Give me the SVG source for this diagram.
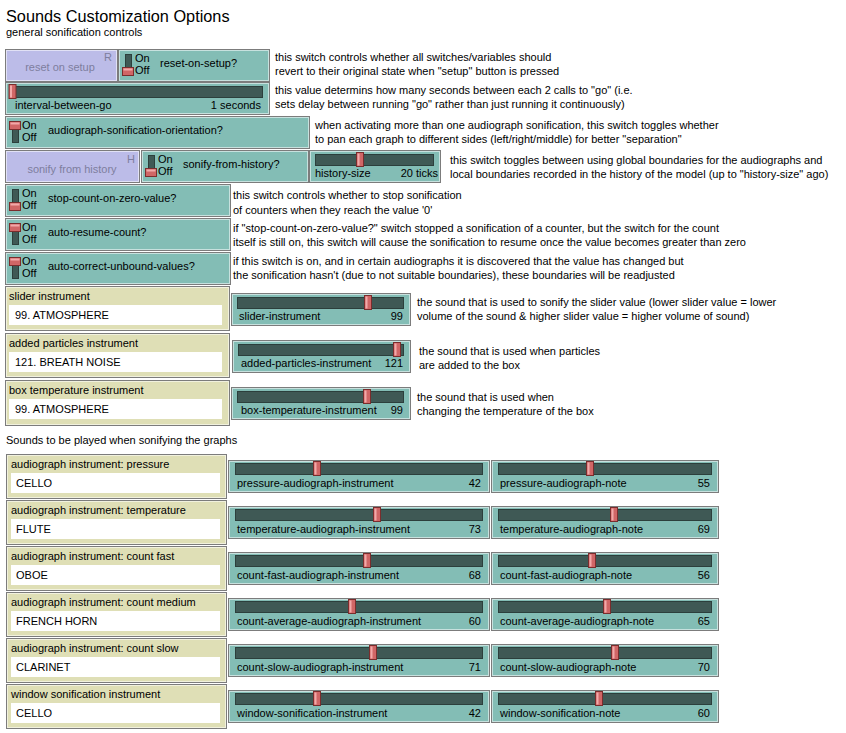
<svg xmlns="http://www.w3.org/2000/svg" width="846" height="733" viewBox="0 0 846 733">
<style>
text{font-family:"Liberation Sans",Arial,sans-serif;font-size:11px;fill:#000}
.title{font-size:16.3px}
.w{stroke:#7c7c7c;stroke-width:1}
.hl{fill:none;stroke:#ffffff;stroke-opacity:.55;stroke-width:1}
.teal{fill:#83bdb5}
.chz{fill:#dfdfb6}
.btn{fill:#bcbce8}
.btxt{fill:#7e7e9e}
.track{fill:#3f5955;stroke:#2c3f3c;stroke-width:1}
.knob{fill:#d06666;stroke:#7a2d2d;stroke-width:1}
.kh{fill:#f2a9a9}
.strack{fill:#3f5955;stroke:#2c3f3c;stroke-width:1}
.wbox{fill:#ffffff}
.end{text-anchor:end}
.mid{text-anchor:middle}
</style>
<defs>
<g id="knob"><rect class="knob" x="-3.5" y="0.5" width="7" height="14"/><rect class="kh" x="-2.5" y="1.5" width="2" height="12"/></g>
<g id="swOff"><rect class="strack" x="7.5" y="5.5" width="6" height="21"/><rect class="knob" x="4.5" y="18.5" width="11" height="8"/><rect class="kh" x="5.5" y="19.5" width="9" height="2"/><text x="17" y="13">On</text><text x="17" y="25">Off</text></g>
<g id="swOn"><rect class="strack" x="7.5" y="5.5" width="6" height="21"/><rect class="knob" x="4.5" y="5.5" width="11" height="8"/><rect class="kh" x="5.5" y="6.5" width="9" height="2"/><text x="17" y="13">On</text><text x="17" y="25">Off</text></g>
</defs>

<g id="header">
<text class="title" x="6" y="22">Sounds Customization Options</text>
<text x="6" y="36">general sonification controls</text>
</g>

<g id="btn-reset">
<rect class="w btn" x="5.5" y="49.5" width="112" height="32"/><rect class="hl" x="6.5" y="50.5" width="110" height="30"/>
<text class="btxt mid" x="60" y="71">reset on setup</text><text class="btxt" x="104" y="61">R</text>
</g>
<g id="sw-reset">
<rect class="w teal" x="118.5" y="49.5" width="151" height="32"/><rect class="hl" x="119.5" y="50.5" width="149" height="30"/>
<use href="#swOff" x="118" y="49"/><text x="160" y="67">reset-on-setup?</text>
</g>
<g id="sl-interval">
<rect class="w teal" x="5.5" y="82.5" width="264" height="32"/><rect class="hl" x="6.5" y="83.5" width="262" height="30"/>
<rect class="track" x="10.5" y="86.5" width="252" height="11"/><use href="#knob" x="12.5" y="84"/>
<text x="15" y="109">interval-between-go</text><text class="end" x="261" y="109">1 seconds</text>
</g>
<g id="sw-orient">
<rect class="w teal" x="5.5" y="116.5" width="304" height="32"/><rect class="hl" x="6.5" y="117.5" width="302" height="30"/>
<use href="#swOn" x="5" y="116"/><text x="48" y="134">audiograph-sonification-orientation?</text>
</g>
<g id="btn-sonify">
<rect class="w btn" x="5.5" y="150.5" width="134" height="32"/><rect class="hl" x="6.5" y="151.5" width="132" height="30"/>
<text class="btxt mid" x="72" y="173">sonify from history</text><text class="btxt" x="127" y="163">H</text>
</g>
<g id="sw-sonify">
<rect class="w teal" x="141.5" y="150.5" width="167" height="32"/><rect class="hl" x="142.5" y="151.5" width="165" height="30"/>
<use href="#swOff" x="141" y="150"/><text x="183" y="168">sonify-from-history?</text>
</g>
<g id="sl-history">
<rect class="w teal" x="309.5" y="150.5" width="131" height="32"/><rect class="hl" x="310.5" y="151.5" width="129" height="30"/>
<rect class="track" x="315.5" y="154.5" width="118" height="11"/><use href="#knob" x="360" y="152"/>
<text x="315" y="177">history-size</text><text class="end" x="438" y="177">20 ticks</text>
</g>
<g id="sw-stop">
<rect class="w teal" x="5.5" y="184.5" width="225" height="32"/><rect class="hl" x="6.5" y="185.5" width="223" height="30"/>
<use href="#swOff" x="5" y="184"/><text x="48" y="202">stop-count-on-zero-value?</text>
</g>
<g id="sw-resume">
<rect class="w teal" x="5.5" y="218.5" width="225" height="32"/><rect class="hl" x="6.5" y="219.5" width="223" height="30"/>
<use href="#swOn" x="5" y="218"/><text x="48" y="236">auto-resume-count?</text>
</g>
<g id="sw-correct">
<rect class="w teal" x="5.5" y="252.5" width="225" height="32"/><rect class="hl" x="6.5" y="253.5" width="223" height="30"/>
<use href="#swOn" x="5" y="252"/><text x="48" y="270">auto-correct-unbound-values?</text>
</g>

<g id="ch-slider">
<rect class="w chz" x="5.5" y="286.5" width="224" height="44"/><rect class="hl" x="6.5" y="287.5" width="222" height="42"/>
<text x="9" y="300">slider instrument</text><rect class="wbox" x="9" y="305" width="213" height="20"/><text x="15" y="319">99. ATMOSPHERE</text>
</g>
<g id="sl-slider">
<rect class="w teal" x="231.5" y="293.5" width="179" height="32"/><rect class="hl" x="232.5" y="294.5" width="177" height="30"/>
<rect class="track" x="237.5" y="297.5" width="166" height="11"/><use href="#knob" x="368" y="295"/>
<text x="239" y="320">slider-instrument</text><text class="end" x="403" y="320">99</text>
</g>
<g id="ch-particles">
<rect class="w chz" x="5.5" y="333.5" width="224" height="44"/><rect class="hl" x="6.5" y="334.5" width="222" height="42"/>
<text x="9" y="347">added particles instrument</text><rect class="wbox" x="9" y="352" width="213" height="20"/><text x="15" y="366">121. BREATH NOISE</text>
</g>
<g id="sl-particles">
<rect class="w teal" x="232.5" y="340.5" width="178" height="32"/><rect class="hl" x="233.5" y="341.5" width="176" height="30"/>
<rect class="track" x="238.5" y="344.5" width="165" height="11"/><use href="#knob" x="397" y="342"/>
<text x="241" y="367">added-particles-instrument</text><text class="end" x="403" y="367">121</text>
</g>
<g id="ch-box">
<rect class="w chz" x="5.5" y="380.5" width="224" height="45"/><rect class="hl" x="6.5" y="381.5" width="222" height="43"/>
<text x="9" y="394">box temperature instrument</text><rect class="wbox" x="9" y="399" width="213" height="20"/><text x="15" y="413">99. ATMOSPHERE</text>
</g>
<g id="sl-box">
<rect class="w teal" x="231.5" y="387.5" width="179" height="32"/><rect class="hl" x="232.5" y="388.5" width="177" height="30"/>
<rect class="track" x="237.5" y="391.5" width="166" height="11"/><use href="#knob" x="367" y="389"/>
<text x="241" y="414">box-temperature-instrument</text><text class="end" x="403" y="414">99</text>
</g>

<g id="descriptions">
<text x="275" y="61">this switch controls whether all switches/variables should</text>
<text x="275" y="75">revert to their original state when "setup" button is pressed</text>
<text x="275" y="94">this value determins how many seconds between each 2 calls to "go" (i.e.</text>
<text x="275" y="108">sets delay between running "go" rather than just running it continuously)</text>
<text x="315" y="129">when activating more than one audiograph sonification, this switch toggles whether</text>
<text x="315" y="143">to pan each graph to different sides (left/right/middle) for better "separation"</text>
<text x="450" y="164">this switch toggles between using global boundaries for the audiographs and</text>
<text x="450" y="178">local boundaries recorded in the history of the model (up to "history-size" ago)</text>
<text x="233" y="199">this switch controls whether to stop sonification</text>
<text x="233" y="214">of counters when they reach the value '0'</text>
<text x="233" y="232">if "stop-count-on-zero-value?" switch stopped a sonification of a counter, but the switch for the count</text>
<text x="233" y="246">itself is still on, this switch will cause the sonification to resume once the value becomes greater than zero</text>
<text x="233" y="265">if this switch is on, and in certain audiographs it is discovered that the value has changed but</text>
<text x="233" y="279">the sonification hasn't (due to not suitable boundaries), these boundaries will be readjusted</text>
<text x="417" y="306">the sound that is used to sonify the slider value (lower slider value = lower</text>
<text x="417" y="320">volume of the sound &amp; higher slider value = higher volume of sound)</text>
<text x="419" y="355">the sound that is used when particles</text>
<text x="419" y="369">are added to the box</text>
<text x="417" y="401">the sound that is used when</text>
<text x="417" y="415">changing the temperature of the box</text>
<text x="6" y="444">Sounds to be played when sonifying the graphs</text>
</g>

<g id="ch-pressure">
<rect class="w chz" x="6.5" y="454.5" width="220" height="44"/><rect class="hl" x="7.5" y="455.5" width="218" height="42"/>
<text x="11" y="468">audiograph instrument: pressure</text><rect class="wbox" x="11" y="473" width="209" height="20"/><text x="16" y="487">CELLO</text>
</g>
<g id="sl-pressure-i">
<rect class="w teal" x="228.5" y="460.5" width="261" height="32"/><rect class="hl" x="229.5" y="461.5" width="259" height="30"/>
<rect class="track" x="235.5" y="463.5" width="247" height="11"/><use href="#knob" x="317" y="461"/>
<text x="237" y="487">pressure-audiograph-instrument</text><text class="end" x="481" y="487">42</text>
</g>
<g id="sl-pressure-n">
<rect class="w teal" x="491.5" y="460.5" width="227" height="32"/><rect class="hl" x="492.5" y="461.5" width="225" height="30"/>
<rect class="track" x="498.5" y="463.5" width="213" height="11"/><use href="#knob" x="590" y="461"/>
<text x="500" y="487">pressure-audiograph-note</text><text class="end" x="710" y="487">55</text>
</g>

<g id="ch-temperature">
<rect class="w chz" x="6.5" y="500.5" width="220" height="44"/><rect class="hl" x="7.5" y="501.5" width="218" height="42"/>
<text x="11" y="514">audiograph instrument: temperature</text><rect class="wbox" x="11" y="519" width="209" height="20"/><text x="16" y="533">FLUTE</text>
</g>
<g id="sl-temperature-i">
<rect class="w teal" x="228.5" y="506.5" width="261" height="32"/><rect class="hl" x="229.5" y="507.5" width="259" height="30"/>
<rect class="track" x="235.5" y="509.5" width="247" height="11"/><use href="#knob" x="377" y="507"/>
<text x="237" y="533">temperature-audiograph-instrument</text><text class="end" x="481" y="533">73</text>
</g>
<g id="sl-temperature-n">
<rect class="w teal" x="491.5" y="506.5" width="227" height="32"/><rect class="hl" x="492.5" y="507.5" width="225" height="30"/>
<rect class="track" x="498.5" y="509.5" width="213" height="11"/><use href="#knob" x="614" y="507"/>
<text x="500" y="533">temperature-audiograph-note</text><text class="end" x="710" y="533">69</text>
</g>

<g id="ch-fast">
<rect class="w chz" x="6.5" y="546.5" width="220" height="44"/><rect class="hl" x="7.5" y="547.5" width="218" height="42"/>
<text x="11" y="560">audiograph instrument: count fast</text><rect class="wbox" x="11" y="565" width="209" height="20"/><text x="16" y="579">OBOE</text>
</g>
<g id="sl-fast-i">
<rect class="w teal" x="228.5" y="552.5" width="261" height="32"/><rect class="hl" x="229.5" y="553.5" width="259" height="30"/>
<rect class="track" x="235.5" y="555.5" width="247" height="11"/><use href="#knob" x="367" y="553"/>
<text x="237" y="579">count-fast-audiograph-instrument</text><text class="end" x="481" y="579">68</text>
</g>
<g id="sl-fast-n">
<rect class="w teal" x="491.5" y="552.5" width="227" height="32"/><rect class="hl" x="492.5" y="553.5" width="225" height="30"/>
<rect class="track" x="498.5" y="555.5" width="213" height="11"/><use href="#knob" x="592" y="553"/>
<text x="500" y="579">count-fast-audiograph-note</text><text class="end" x="710" y="579">56</text>
</g>

<g id="ch-medium">
<rect class="w chz" x="6.5" y="592.5" width="220" height="44"/><rect class="hl" x="7.5" y="593.5" width="218" height="42"/>
<text x="11" y="606">audiograph instrument: count medium</text><rect class="wbox" x="11" y="611" width="209" height="20"/><text x="16" y="625">FRENCH HORN</text>
</g>
<g id="sl-medium-i">
<rect class="w teal" x="228.5" y="598.5" width="261" height="32"/><rect class="hl" x="229.5" y="599.5" width="259" height="30"/>
<rect class="track" x="235.5" y="601.5" width="247" height="11"/><use href="#knob" x="352" y="599"/>
<text x="237" y="625">count-average-audiograph-instrument</text><text class="end" x="481" y="625">60</text>
</g>
<g id="sl-medium-n">
<rect class="w teal" x="491.5" y="598.5" width="227" height="32"/><rect class="hl" x="492.5" y="599.5" width="225" height="30"/>
<rect class="track" x="498.5" y="601.5" width="213" height="11"/><use href="#knob" x="607" y="599"/>
<text x="500" y="625">count-average-audiograph-note</text><text class="end" x="710" y="625">65</text>
</g>

<g id="ch-slow">
<rect class="w chz" x="6.5" y="638.5" width="220" height="44"/><rect class="hl" x="7.5" y="639.5" width="218" height="42"/>
<text x="11" y="652">audiograph instrument: count slow</text><rect class="wbox" x="11" y="657" width="209" height="20"/><text x="16" y="671">CLARINET</text>
</g>
<g id="sl-slow-i">
<rect class="w teal" x="228.5" y="644.5" width="261" height="32"/><rect class="hl" x="229.5" y="645.5" width="259" height="30"/>
<rect class="track" x="235.5" y="647.5" width="247" height="11"/><use href="#knob" x="373" y="645"/>
<text x="237" y="671">count-slow-audiograph-instrument</text><text class="end" x="481" y="671">71</text>
</g>
<g id="sl-slow-n">
<rect class="w teal" x="491.5" y="644.5" width="227" height="32"/><rect class="hl" x="492.5" y="645.5" width="225" height="30"/>
<rect class="track" x="498.5" y="647.5" width="213" height="11"/><use href="#knob" x="615" y="645"/>
<text x="500" y="671">count-slow-audiograph-note</text><text class="end" x="710" y="671">70</text>
</g>

<g id="ch-window">
<rect class="w chz" x="6.5" y="684.5" width="220" height="44"/><rect class="hl" x="7.5" y="685.5" width="218" height="42"/>
<text x="11" y="698">window sonification instrument</text><rect class="wbox" x="11" y="703" width="209" height="20"/><text x="16" y="717">CELLO</text>
</g>
<g id="sl-window-i">
<rect class="w teal" x="228.5" y="690.5" width="261" height="32"/><rect class="hl" x="229.5" y="691.5" width="259" height="30"/>
<rect class="track" x="235.5" y="693.5" width="247" height="11"/><use href="#knob" x="317" y="691"/>
<text x="237" y="717">window-sonification-instrument</text><text class="end" x="481" y="717">42</text>
</g>
<g id="sl-window-n">
<rect class="w teal" x="491.5" y="690.5" width="227" height="32"/><rect class="hl" x="492.5" y="691.5" width="225" height="30"/>
<rect class="track" x="498.5" y="693.5" width="213" height="11"/><use href="#knob" x="599" y="691"/>
<text x="500" y="717">window-sonification-note</text><text class="end" x="710" y="717">60</text>
</g>

<g id="connectors"></g>
</svg>
